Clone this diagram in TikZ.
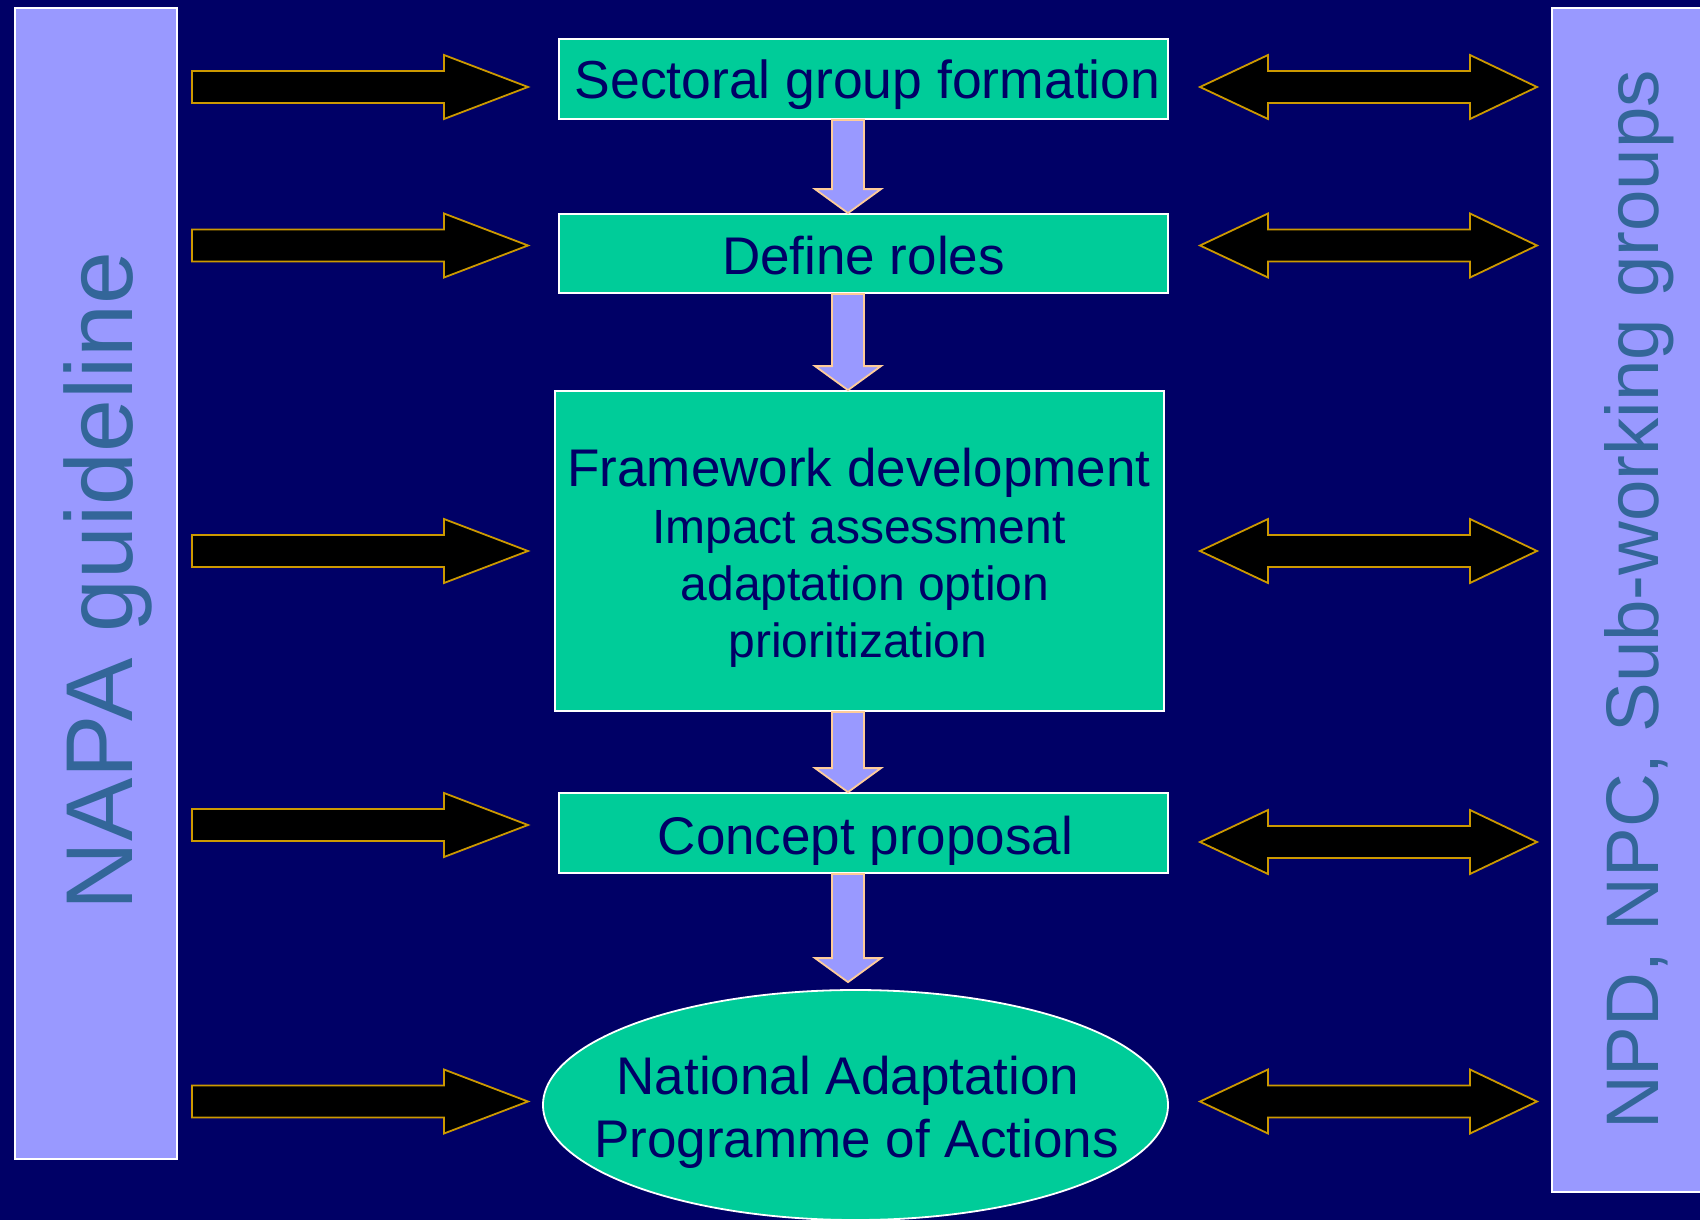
\documentclass[tikz,border=0pt]{standalone}
\usepackage{fontspec}
\setmainfont{Liberation Sans}
\usetikzlibrary{calc,shapes.geometric}
\definecolor{bgnavy}{HTML}{000066}
\definecolor{barlav}{HTML}{9999FF}
\definecolor{bartext}{HTML}{336699}
\definecolor{boxgreen}{HTML}{00CC99}
\definecolor{peach}{HTML}{FFCC99}
\definecolor{goldline}{HTML}{CC9900}
\newcommand\flowdn[2]{%
  \draw[downarr] let \p1=(#1), \p2=(#2) in
    (832pt,\y1) -- (864pt,\y1) -- (864pt,\y2+24pt) -- (881pt,\y2+24pt) --
    (848pt,\y2) -- (815pt,\y2+24pt) -- (832pt,\y2+24pt) -- cycle;}
\newcommand\inarr[1]{%
  \draw[sidearr] (192,#1-16) -- (444,#1-16) -- (444,#1-32) -- (528,#1) --
    (444,#1+32) -- (444,#1+16) -- (192,#1+16) -- cycle;}
\newcommand\twoarr[1]{%
  \draw[sidearr] (1200,#1) -- (1268,#1-32) -- (1268,#1-16) -- (1470,#1-16) --
    (1470,#1-32) -- (1537,#1) -- (1470,#1+32) -- (1470,#1+16) --
    (1268,#1+16) -- (1268,#1+32) -- cycle;}
\begin{document}
\begin{tikzpicture}[x=1pt,y=-1pt,
  bar/.style={draw=white, line width=2pt, fill=barlav, inner sep=0pt},
  stepbox/.style={draw=white, line width=1.8pt, fill=boxgreen, text=bgnavy,
    inner sep=0pt, font=\fontsize{53}{60}\selectfont},
  txt/.style={text=bgnavy, inner sep=0pt, anchor=base},
  vtext/.style={text=bartext, rotate=90, anchor=base, inner sep=0pt},
  downarr/.style={draw=peach, fill=barlav, line width=1.8pt, line join=miter},
  sidearr/.style={draw=goldline, fill=black, line width=1.8pt, line join=miter}]
\useasboundingbox (0,0) rectangle (1700,1220);
\fill[bgnavy] (0,0) rectangle (1700,1220);
% side bars
\node[bar, minimum width=162pt, minimum height=1151pt] (lbar) at (96,583.5) {};
\node[bar, minimum width=158pt, minimum height=1184pt] (rbar) at (1631,600) {};
\node[vtext, font=\fontsize{95}{100}\selectfont] (ltext) at (132,581) {NAPA guideline};
\node[vtext, font=\fontsize{74.5}{80}\selectfont] (rtext) at (1658,600) {NPD, NPC, Sub-working groups};
% boxes
\node[stepbox, minimum width=609pt, minimum height=80pt, text height=40pt, text depth=0pt,
  font=\fontsize{53.5}{60}\selectfont]
  (b1) at (863.5,79) {\hspace*{8pt}Sectoral group formation};
\node[stepbox, minimum width=609pt, minimum height=79pt, text height=41pt, text depth=0pt]
  (b2) at (863.5,253.5) {Define roles};
\node[stepbox, minimum width=609pt, minimum height=320pt] (b3) at (859.5,551) {};
\node[stepbox, minimum width=609pt, minimum height=80pt, text height=42pt, text depth=0pt]
  (b4) at (863.5,833) {\hspace*{4pt}Concept proposal};
\node[stepbox, ellipse, minimum width=625pt, minimum height=230pt] (ell) at (855.5,1105) {};
% box 3 text
\node[txt, font=\fontsize{53}{60}\selectfont] (b3a) at (859,486) {Framework development};
\node[txt, font=\fontsize{48}{56}\selectfont] (b3b) at (859,543) {Impact assessment};
\node[txt, font=\fontsize{48}{56}\selectfont] (b3c) at (865,600) {adaptation option};
\node[txt, font=\fontsize{48}{56}\selectfont] (b3d) at (858,657) {prioritization};
% ellipse text
\node[txt, font=\fontsize{53}{60}\selectfont] (ea) at (848,1094) {National Adaptation};
\node[txt, font=\fontsize{53}{60}\selectfont] (eb) at (856.5,1157) {Programme of Actions};
% down arrows
\flowdn{b1.south}{b2.north}
\flowdn{b2.south}{b3.north}
\flowdn{b3.south}{b4.north}
\flowdn{b4.south}{$(ell.north)+(0,-7)$}
% side arrows
\inarr{87}
\inarr{245.5}
\inarr{551}
\inarr{825}
\inarr{1101.5}
\twoarr{87}
\twoarr{245.5}
\twoarr{551}
\twoarr{842}
\twoarr{1101.5}
\end{tikzpicture}
\end{document}
